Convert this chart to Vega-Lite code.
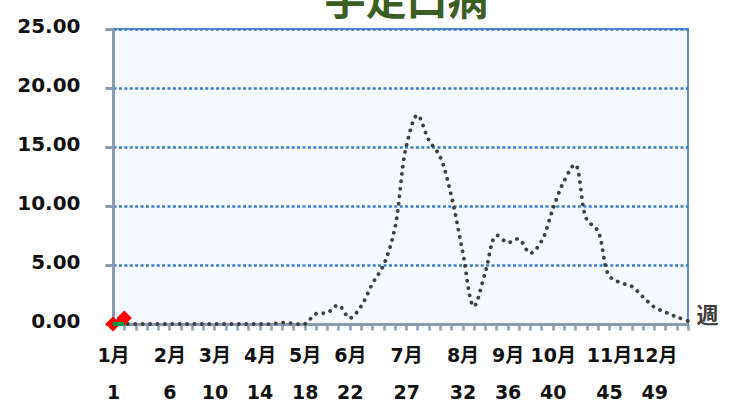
{
  "$schema": "https://vega.github.io/schema/vega-lite/v6.json",
  "autosize": "none",
  "width": 575,
  "height": 295,
  "padding": {"left": 113, "top": 29, "right": 43, "bottom": 79},
  "background": "#ffffff",
  "title": {
    "text": "手足口病",
    "font": "Noto Sans CJK JP",
    "fontSize": 41,
    "fontWeight": "bold",
    "color": "#3B5E22",
    "anchor": "middle",
    "baseline": "alphabetic",
    "offset": -40,
    "dx": 6
  },
  "datasets": {
    "past": [
      {"week": 1, "value": 0}, {"week": 2, "value": 0}, {"week": 3, "value": 0}, {"week": 4, "value": 0},
      {"week": 5, "value": 0}, {"week": 6, "value": 0}, {"week": 7, "value": 0}, {"week": 8, "value": 0},
      {"week": 9, "value": 0}, {"week": 10, "value": 0}, {"week": 11, "value": 0}, {"week": 12, "value": 0},
      {"week": 13, "value": 0}, {"week": 14, "value": 0}, {"week": 15, "value": 0}, {"week": 16, "value": 0.12},
      {"week": 17, "value": 0.05}, {"week": 18, "value": 0}, {"week": 19, "value": 0.87}, {"week": 20, "value": 0.95},
      {"week": 21, "value": 1.6}, {"week": 22, "value": 0.5}, {"week": 23, "value": 1.5}, {"week": 24, "value": 3.4},
      {"week": 25, "value": 5.0}, {"week": 26, "value": 8.1}, {"week": 27, "value": 15.0}, {"week": 28, "value": 17.7},
      {"week": 29, "value": 15.6}, {"week": 30, "value": 14.2}, {"week": 31, "value": 10.9}, {"week": 32, "value": 6.2},
      {"week": 33, "value": 1.5}, {"week": 34, "value": 4.3}, {"week": 35, "value": 7.5}, {"week": 36, "value": 6.9},
      {"week": 37, "value": 7.2}, {"week": 38, "value": 6.0}, {"week": 39, "value": 7.0}, {"week": 40, "value": 9.7},
      {"week": 41, "value": 12.1}, {"week": 42, "value": 13.5}, {"week": 43, "value": 8.9}, {"week": 44, "value": 7.9},
      {"week": 45, "value": 4.1}, {"week": 46, "value": 3.5}, {"week": 47, "value": 3.2}, {"week": 48, "value": 2.3},
      {"week": 49, "value": 1.45}, {"week": 50, "value": 1.0}, {"week": 51, "value": 0.6}, {"week": 52, "value": 0.25}
    ],
    "current": [
      {"week": 1, "value": 0}, {"week": 2, "value": 0.5}
    ],
    "baseline": [
      {"week": 1, "value": 0}, {"week": 2, "value": 0}
    ]
  },
  "config": {
    "view": {"fill": "#F6FAFE", "stroke": "#5A8FD8", "strokeWidth": 2}
  },
  "encoding": {
    "x": {
      "field": "week",
      "type": "quantitative",
      "scale": {"domain": [1, 52], "nice": false, "zero": false},
      "axis": {
        "values": [1,2,3,4,5,6,7,8,9,10,11,12,13,14,15,16,17,18,19,20,21,22,23,24,25,26,27,28,29,30,31,32,33,34,35,36,37,38,39,40,41,42,43,44,45,46,47,48,49,50,51,52],
        "labelExpr": "indexof([1,6,10,14,18,22,27,32,36,40,45,49], datum.value) < 0 ? '' : [(indexof([1,6,10,14,18,22,27,32,36,40,45,49], datum.value) + 1) + '月', '' + datum.value]",
        "labelOverlap": false,
        "labelBound": false,
        "labelFlush": false,
        "labelFont": "DejaVu Sans, Noto Sans CJK JP",
        "labelFontSize": 19,
        "labelFontWeight": "bold",
        "labelColor": "#111111",
        "labelBaseline": "top",
        "labelLineHeight": 37,
        "labelPadding": 16,
        "tickSize": 6,
        "tickWidth": 2.5,
        "tickColor": "#8A9BB4",
        "domainColor": "#8A9BB4",
        "domainWidth": 3,
        "grid": false,
        "title": "週",
        "titleFont": "Noto Sans CJK JP",
        "titleFontSize": 22,
        "titleFontWeight": "bold",
        "titleColor": "#3A3A3A",
        "titleX": 594,
        "titleY": -9,
        "titleAlign": "center",
        "titleBaseline": "middle",
        "titleAngle": 0
      }
    },
    "y": {
      "field": "value",
      "type": "quantitative",
      "scale": {"domain": [0, 25], "nice": false},
      "axis": {
        "values": [0, 5, 10, 15, 20, 25],
        "format": ".2f",
        "labelFont": "DejaVu Sans",
        "labelFontSize": 20,
        "labelFontWeight": "bold",
        "labelColor": "#111111",
        "labelPadding": 25,
        "labelOffset": -3,
        "tickSize": 8,
        "tickWidth": 3,
        "tickColor": "#8A9BB4",
        "domainColor": "#8A9BB4",
        "domainWidth": 3,
        "grid": true,
        "gridColor": "#3A7BC6",
        "gridWidth": 2.5,
        "gridDash": [3, 2.4],
        "title": null
      }
    }
  },
  "layer": [
    {
      "data": {"name": "past"},
      "mark": {
        "type": "line",
        "interpolate": "catmull-rom",
        "color": "#3F3F3F",
        "strokeWidth": 3.8,
        "strokeCap": "round",
        "strokeDash": [0.1, 7.3]
      }
    },
    {
      "data": {"name": "current"},
      "mark": {
        "type": "line",
        "color": "#FF0000",
        "strokeWidth": 5,
        "point": {"shape": "diamond", "size": 230, "filled": true, "color": "#FF0000"}
      }
    },
    {
      "data": {"name": "baseline"},
      "mark": {"type": "line", "color": "#00A04A", "strokeWidth": 4}
    }
  ]
}
